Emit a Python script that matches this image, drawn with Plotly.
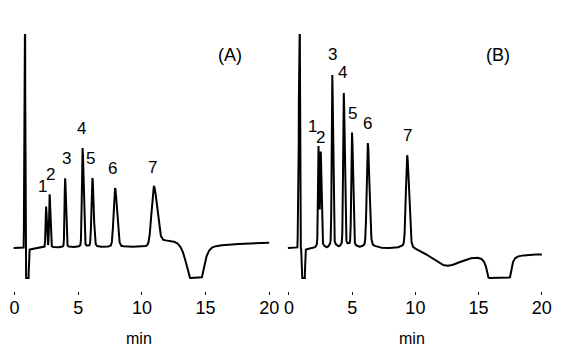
import numpy as np
import plotly.graph_objects as go

# ---------------- data ----------------
# Panel (A): peaks (retention time in min, height, left sigma in min)
peak_labels = ["1", "2", "3", "4", "5", "6", "7"]
peak_times_A = [2.47, 2.75, 3.97, 5.34, 6.11, 7.89, 10.94]
peak_heights_A = [41, 53, 69, 99, 69, 59, 60]
peak_sigmas_A = [0.040, 0.040, 0.045, 0.055, 0.07, 0.11, 0.18]

# Panel (B)
peak_times_B = [2.34, 2.52, 3.43, 4.34, 4.99, 6.24, 9.35]
peak_heights_B = [100, 93, 173, 155, 115, 105, 93]
peak_sigmas_B = [0.040, 0.040, 0.045, 0.05, 0.055, 0.085, 0.10]

# injection spikes (time, height, sigma)
spike_A = (0.79, 1000.0, 0.022)
spike_B = (0.83, 1000.0, 0.022)

# baseline steps (time, amplitude, width)
step_times_A = [0.87, 1.10, 1.5, 3.0, 11.3, 13.68, 14.72, 16.8]
step_amps_A = [-60, 58, 2, 1, 6, -70, 64, 4.5]
step_widths_A = [0.008, 0.01, 0.2, 0.8, 0.15, 0.28, 0.22, 1.0]

step_times_B = [0.70, 0.90, 1.00, 1.26, 1.6, 9.7, 10.9, 13.5, 15.95, 17.35, 18.3]
step_amps_B = [31, -31, -60, 58, 2, -2, -1, -6, -70, 70, 2.5]
step_widths_B = [0.008, 0.008, 0.008, 0.01, 0.2, 0.12, 0.15, 0.5, 0.2, 0.15, 0.4]

# broad baseline bump in (B) (time, amplitude, sigma)
bump_B = (12.45, -14.0, 1.0)

# detector saturation limits (signal units)
sat_low, sat_high = -30.0, 213.0

tick_vals = [0, 5, 10, 15, 20]
t = np.arange(-0.08, 20.0001, 0.004)


def sig(x):
    return 1.0 / (1.0 + np.exp(-np.clip(x, -60, 60)))


def trace_signal(times, heights, sigmas, spike, stimes, samps, swidths, tail, bump=None):
    y = np.zeros_like(t)
    for c, h, s in zip(times, heights, sigmas):
        sg = np.where(t < c, s, s * 1.4)
        y += h * (1 - tail) * np.exp(-0.5 * ((t - c) / sg) ** 2)
        y += h * tail * np.exp(-0.5 * ((t - c) / (sg * 4)) ** 2)
    c, h, s = spike
    y += h * np.exp(-0.5 * ((t - c) / s) ** 2)
    for c, a, w in zip(stimes, samps, swidths):
        y += a * sig((t - c) / w)
    if bump is not None:
        c, a, s = bump
        y += a * np.exp(-0.5 * ((t - c) / s) ** 2)
    return np.clip(y, sat_low, sat_high)


yA = trace_signal(peak_times_A, peak_heights_A, peak_sigmas_A, spike_A,
                  step_times_A, step_amps_A, step_widths_A, 0.02)
yB = trace_signal(peak_times_B, peak_heights_B, peak_sigmas_B, spike_B,
                  step_times_B, step_amps_B, step_widths_B, 0.04, bump_B)

# ---------------- figure ----------------
W, H = 567, 359
fig = go.Figure()
fig.add_trace(go.Scatter(x=t, y=yA, mode="lines", line=dict(color="black", width=2),
                         xaxis="x", yaxis="y", showlegend=False, hoverinfo="skip"))
fig.add_trace(go.Scatter(x=t, y=yB, mode="lines", line=dict(color="black", width=2),
                         xaxis="x2", yaxis="y2", showlegend=False, hoverinfo="skip"))

xr = [-0.2, 20.3]
# pixel placement of the panels
a0, ascale = 12.8, 12.91
b0, bscale = 291.0, 12.83
domA = [(a0 + xr[0] * ascale) / W, (a0 + xr[1] * ascale) / W]
domB = [(b0 + xr[0] * bscale) / W, (b0 + xr[1] * bscale) / W]
top_px, bot_px, base_px = 30, 291, 248
ydom = [(H - bot_px) / H, (H - top_px) / H]
yr = [base_px - bot_px, base_px - top_px]

xaxis_style = dict(range=xr, tickvals=tick_vals, ticks="outside", ticklen=3, tickwidth=1,
                   tickcolor="black", showline=False, showgrid=False, zeroline=False,
                   ticklabelstandoff=-3,
                   tickfont=dict(family="Liberation Sans, Arial", size=18, color="black"),
                   fixedrange=True)
yaxis_style = dict(range=yr, domain=ydom, visible=False, showgrid=False, zeroline=False,
                   fixedrange=True)

fig.update_layout(
    width=W, height=H, margin=dict(l=0, r=0, t=0, b=0),
    paper_bgcolor="white", plot_bgcolor="white",
    xaxis=dict(domain=domA, anchor="y", **xaxis_style),
    xaxis2=dict(domain=domB, anchor="y2", **xaxis_style),
    yaxis=dict(anchor="x", **yaxis_style),
    yaxis2=dict(anchor="x2", **yaxis_style),
)

lab_font = dict(family="Liberation Sans, Arial", size=17, color="black")
xshift_A = [-4, 1, 1, -1, -2, -3, -1]
xshift_B = [-6, 0, 0, -1, 0, 0, 0]
yshift_B = [22, 18, 20, 20, 20, 20, 20]
for lab, tt, hh, xs in zip(peak_labels, peak_times_A, peak_heights_A, xshift_A):
    fig.add_annotation(x=tt, y=hh + 1, xref="x", yref="y", text=lab, showarrow=False,
                       yshift=20, xshift=xs, font=lab_font)
for lab, tt, hh, xs, ys in zip(peak_labels, peak_times_B, peak_heights_B, xshift_B, yshift_B):
    fig.add_annotation(x=tt, y=hh, xref="x2", yref="y2", text=lab, showarrow=False,
                       yshift=ys, xshift=xs, font=lab_font)

fig.add_annotation(x=16.9, y=193, xref="x", yref="y", text="(A)", showarrow=False,
                   font=dict(family="Liberation Sans, Arial", size=18, color="black"))
fig.add_annotation(x=16.52, y=193, xref="x2", yref="y2", text="(B)", showarrow=False,
                   font=dict(family="Liberation Sans, Arial", size=18, color="black"))

min_font = dict(family="Liberation Sans, Arial", size=16, color="black")
fig.add_annotation(x=9.8, y=(H - 338) / H, xref="x", yref="paper", text="min",
                   showarrow=False, yanchor="middle", font=min_font)
fig.add_annotation(x=9.7, y=(H - 338) / H, xref="x2", yref="paper", text="min",
                   showarrow=False, yanchor="middle", font=min_font)

fig.write_html("out.html")
